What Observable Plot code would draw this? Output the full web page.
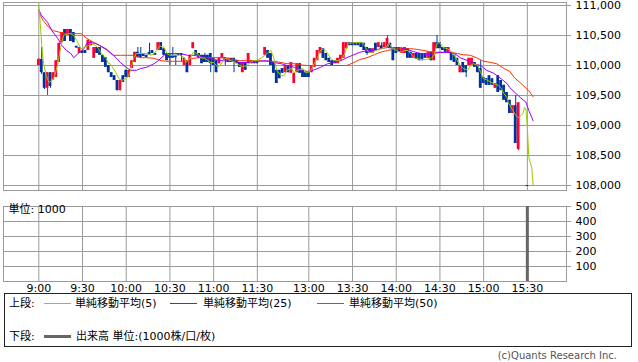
<!DOCTYPE html>
<html><head><meta charset="utf-8">
<script src="https://cdn.jsdelivr.net/npm/d3@7"></script>
<script src="https://cdn.jsdelivr.net/npm/@observablehq/plot@0.6"></script>
<style>
body{margin:0;background:#fff;}
#wrap{position:relative;width:638px;height:362px;overflow:hidden;font-family:"DejaVu Sans","Noto Sans CJK JP",sans-serif;font-size:11px;color:#000;}
#top,#bottom{position:absolute;left:0;}
#top{top:0;} #bottom{top:196px;}
#legend{position:absolute;left:4px;top:293px;width:628px;height:54px;border:1px solid #222;box-sizing:border-box;}
#legend span{position:absolute;white-space:nowrap;line-height:13px;}
#legend i{position:absolute;display:block;}
#copy{position:absolute;right:21px;top:350px;color:#555;white-space:nowrap;line-height:12px;font-size:10px;}
</style></head><body>
<div id="wrap">
<div id="top"></div>
<div id="bottom"></div>
<div id="legend"></div>
<div id="copy">(c)Quants Research Inc.</div>
</div>
<script>
// ---------- data ----------
const timeTicks = ["9:00","9:30","10:00","10:30","11:00","11:30","13:00","13:30","14:00","14:30","15:00","15:30"];
const priceTicks = [108000,108500,109000,109500,110000,110500,111000];
const volumeTicks = [100,200,300,400,500];

const morningStart = "9:00", afternoonStart = "12:30", barMinutes = 2;
const morningOpen = [110000,110100,109880,109620,109880,109760,109800,110050,110380,110600,110500,110600,110550,110320,110200,110240,110250,110250,110330,110120,110300,110300,110170,110130,110000,109880,109830,109750,109580,109830,109920,109800,109950,110050,110220,110200,110200,110170,110220,110250,110200,110250,110380,110280,110200,110200,110170,110170,110200,110200,110000,110080,110000,110280,110250,110200,110170,110170,110170,110200,110120,110080,110030,110120,110130,110120,110120,110120,110080,110050,109880,110050,110030,110080,110080,110080];
const morningClose = [110100,109880,109620,109880,109650,109880,110080,110370,110550,110400,110600,110400,110380,110290,110300,110200,110200,110420,110400,110300,110200,110170,110050,109970,109880,109800,109750,109580,109750,109720,109800,109920,110080,110220,110130,110130,110150,110130,110170,110200,110170,110380,110250,110170,110080,110120,110120,110130,110170,110170,110120,109880,110170,110380,110170,110120,110030,110050,110050,110030,110000,109880,110130,110200,110080,110050,110050,110050,110030,109970,110050,109920,110200,110030,110030,110030];
const afternoonOpen = [110170,110250,110200,110050,109920,109920,109950,109880,110000,109870,109700,109880,110030,109920,109880,109880,109880,109970,110080,110200,110280,110200,110120,110080,110080,110030,110080,110120,110280,110380,110380,110380,110380,110380,110370,110300,110280,110200,110370,110300,110330,110300,110300,110370,110280,110280,110300,110200,110200,110280,110220,110120,110200,110200,110200,110200,110120,110220,110080,110380,110380,110300,110300,110200,110220,110170,110120,109880,110050,110000,110000,110000,110050,110000,109950,109800,109780,109830,109780,109620,109830,109750,109670,109550,109420,109200,109330,108600,null,null,108000];
const afternoonClose = [110300,110120,110000,109870,109700,109780,109870,110000,109880,110050,109870,110030,109870,109800,109800,109800,110000,110120,110250,110300,110120,110080,110050,110000,110030,110120,110170,110380,110380,110330,110330,110330,110330,110300,110250,110200,110200,110280,110250,110380,110280,110380,110450,110280,110080,110200,110220,110280,110300,110120,110120,110200,110100,110080,110080,110120,110220,110080,110380,110280,110280,110250,110220,110300,110080,110050,110000,110000,109880,109880,110120,110120,109970,109880,109620,109700,109670,109670,109670,109700,109550,109580,109420,109380,109200,109330,108700,109380,null,null,108000];
const highWicks = [["9:00",110120],["9:02",110300],["10:08",110300],["10:10",110300],["10:16",110370],["10:32",110300],["10:54",110200],["13:50",110380],["13:54",110500],["14:28",110500],["14:58",110080],["15:22",109500]];
const lowWicks = [["9:02",109850],["9:04",109600],["9:06",109500],["9:08",109620],["10:30",110000],["10:34",110000],["10:38",110050],["10:58",109880],["11:08",110000],["11:14",109880],["13:40",110170],["14:48",109800],["15:24",108580]];

const volumeTimes = ["15:30"];
const volumeValues = [500];

const ma5Times = ["9:00","9:01","9:02","9:03","9:05","9:07","9:09","9:11","9:13","9:15","9:17","9:20","9:22","9:24","9:26","9:29","9:31","9:34","9:36","9:39","9:41","9:43","9:46","9:48","9:49","9:53","9:55","9:57","10:01","10:03","10:05","10:07","10:11","10:14","10:17","10:19","10:21","10:23","10:26","10:28","10:30","10:34","10:37","10:40","10:41","10:44","10:46","10:49","10:51","10:54","10:58","11:00","11:03","11:06","11:08","11:12","11:15","11:18","11:20","11:23","11:25","11:27","11:30","12:30","12:32","12:34","12:36","12:38","12:41","12:43","12:45","12:48","12:50","12:52","12:56","12:58","13:01","13:03","13:06","13:08","13:10","13:13","13:15","13:17","13:20","13:23","13:25","13:27","13:30","13:33","13:37","13:39","13:41","13:44","13:46","13:49","13:53","13:55","13:57","14:00","14:03","14:06","14:08","14:11","14:13","14:17","14:20","14:24","14:26","14:28","14:30","14:32","14:35","14:37","14:39","14:42","14:44","14:46","14:49","14:51","14:53","14:56","14:58","15:00","15:03","15:05","15:07","15:10","15:12","15:14","15:16","15:17","15:20","15:22","15:24","15:27","15:28","15:29","15:30","15:31","15:33","15:34"];
const ma5Values = [111000,110700,110350,110080,109830,109720,109750,109830,110030,110300,110500,110530,110530,110500,110420,110280,110300,110330,110370,110330,110280,110200,110120,110030,110030,109880,109780,109750,109800,109920,110120,110200,110200,110200,110170,110200,110250,110330,110300,110200,110170,110170,110170,110130,110050,110120,110220,110200,110130,110120,110050,110050,109970,110050,110120,110080,110050,110000,109980,110000,110050,110080,110080,110170,110220,110250,110120,109920,109830,109830,109920,109950,109880,109920,109950,109880,109900,110000,110130,110250,110280,110200,110120,110080,110080,110120,110220,110370,110380,110380,110380,110300,110220,110220,110250,110270,110300,110370,110300,110250,110220,110250,110250,110170,110120,110100,110100,110120,110170,110370,110380,110300,110280,110250,110200,110080,110000,109950,109920,110000,110030,110000,109880,109780,109750,109720,109700,109670,109620,109530,109470,109380,109250,109170,109130,109200,109300,109280,108970,108470,108300,108000];

const ma25Times = ["9:00","9:02","9:06","9:09","9:13","9:16","9:19","9:22","9:24","9:27","9:31","9:33","9:35","9:39","9:42","9:46","9:49","9:53","9:56","10:00","10:03","10:07","10:10","10:14","10:19","10:22","10:26","10:28","10:33","10:37","10:42","10:46","10:51","10:56","11:00","11:05","11:09","11:14","11:18","11:23","11:28","11:30","12:31","12:36","12:41","12:45","12:50","12:54","12:59","13:03","13:08","13:13","13:17","13:22","13:26","13:31","13:35","13:40","13:45","13:49","13:54","13:58","14:03","14:07","14:12","14:17","14:21","14:26","14:30","14:35","14:40","14:44","14:49","14:53","14:58","15:02","15:07","15:12","15:16","15:18","15:25","15:29","15:31","15:34"];
const ma25Values = [110930,110830,110720,110580,110450,110330,110250,110200,110130,110200,110280,110370,110380,110370,110330,110280,110220,110130,110050,109970,109920,109920,109950,109970,110030,110080,110170,110200,110200,110200,110170,110170,110150,110130,110100,110080,110080,110070,110050,110050,110050,110070,110080,110050,110030,110000,109970,109930,109900,109920,109970,110030,110050,110080,110130,110180,110220,110250,110250,110280,110300,110300,110300,110270,110230,110200,110180,110200,110220,110220,110200,110130,110080,110030,110000,109920,109870,109780,109700,109630,109470,109390,109250,109080];

const ma50Times = ["9:00","9:03","9:07","9:10","9:15","9:19","9:24","9:29","9:33","9:38","9:42","9:47","9:51","9:56","10:01","10:05","10:10","10:14","10:19","10:24","10:28","10:33","10:37","10:42","10:46","10:51","10:56","11:00","11:05","11:09","11:14","11:18","11:23","11:28","11:30","12:31","12:36","12:41","12:45","12:50","12:54","12:59","13:03","13:08","13:13","13:17","13:22","13:26","13:29","13:31","13:35","13:40","13:45","13:49","13:54","13:58","14:03","14:10","14:14","14:19","14:23","14:28","14:32","14:37","14:42","14:46","14:51","14:55","15:00","15:05","15:09","15:14","15:18","15:21","15:27","15:31","15:34"];
const ma50Values = [110880,110750,110630,110580,110550,110530,110530,110530,110450,110380,110330,110250,110170,110170,110170,110170,110130,110130,110120,110080,110070,110070,110070,110080,110120,110130,110130,110130,110130,110120,110100,110080,110080,110080,110080,110070,110070,110050,110030,110030,110010,110000,110000,110000,110000,110000,110000,110000,110030,110050,110100,110130,110180,110220,110250,110270,110280,110280,110270,110250,110230,110220,110220,110220,110200,110180,110170,110130,110070,110050,110030,109950,109900,109800,109670,109580,109480];

const maLabels = ["単純移動平均(5)","単純移動平均(25)","単純移動平均(50)"];
const maColors = ["#99cc00","#9900ff","#ff3300"];
const upColor = "#ff0033", downColor = "#003399", volColor = "#666666", gridColor = "#9a9a9a";

// ---------- helpers ----------
const LUNCH_GAP = 5.33;
function minutesOf(t){const [h,m]=t.split(":").map(Number);return h*60+m;}
function pos(t){const v=minutesOf(t);return v<720? v-540 : 150+LUNCH_GAP+(v-750);}
function addMin(t,n){const v=minutesOf(t)+n;return Math.floor(v/60)+":"+String(v%60).padStart(2,"0");}
const hiMap=new Map(highWicks), loMap=new Map(lowWicks);
const candles=[];
function pushBars(start,opens,closes){
  opens.forEach((o,i)=>{
    const c=closes[i]; if(o==null||c==null) return;
    const t=addMin(start,i*barMinutes);
    candles.push({t,x:pos(t),open:o,close:c,
      high:Math.max(o,c,hiMap.get(t)??-Infinity),
      low:Math.min(o,c,loMap.get(t)??Infinity),
      color:c>o?upColor:downColor});
  });
}
pushBars(morningStart,morningOpen,morningClose);
pushBars(afternoonStart,afternoonOpen,afternoonClose);
const series=(times,vals)=>times.map((t,i)=>({x:pos(t),y:vals[i]}));
const ma5=series(ma5Times,ma5Values), ma25=series(ma25Times,ma25Values), ma50=series(ma50Times,ma50Values);
const vols=volumeTimes.map((t,i)=>({x:pos(t),v:volumeValues[i]}));
const tickPos=timeTicks.map(pos);
const xDomain=[-24.23,362.2];
const fmt=d3.format(",");
const half=0.95;

const common={width:638,marginLeft:3,marginRight:72,
  x:{domain:xDomain,axis:null},
  style:{fontFamily:"DejaVu Sans, Noto Sans CJK JP, sans-serif",fontSize:"11px",color:"#000",background:"transparent",overflow:"visible"}};

const topChart=Plot.plot({...common,height:196,marginTop:2,marginBottom:6,
  y:{domain:[107917,111050],axis:null},
  marks:[
    Plot.ruleY(priceTicks,{stroke:gridColor}),
    Plot.ruleX(tickPos,{stroke:gridColor}),
    Plot.frame({stroke:gridColor}),
    Plot.ruleY(priceTicks,{x1:()=>xDomain[1],x2:()=>xDomain[1]+3.4,stroke:gridColor}),
    Plot.text(priceTicks,{x:()=>xDomain[1],y:d=>d,text:d=>fmt(d),textAnchor:"start",dx:9,fill:"#000"}),
    Plot.ruleX(candles,{x:"x",y1:"low",y2:"high",stroke:"color",strokeWidth:1}),
    Plot.rect(candles.filter(d=>d.open!==d.close),{x1:d=>d.x-half,x2:d=>d.x+half,y1:"open",y2:"close",fill:"color"}),
    Plot.ruleY(candles.filter(d=>d.open===d.close),{y:"close",x1:d=>d.x-half,x2:d=>d.x+half,stroke:"color"}),
    Plot.line(ma50,{x:"x",y:"y",stroke:maColors[2],strokeWidth:1}),
    Plot.line(ma25,{x:"x",y:"y",stroke:maColors[1],strokeWidth:1}),
    Plot.line(ma5,{x:"x",y:"y",stroke:maColors[0],strokeWidth:1})
  ]});
document.getElementById("top").append(topChart);

const bottomChart=Plot.plot({...common,height:100,marginTop:10,marginBottom:15,
  y:{domain:[0,500],axis:null},
  marks:[
    Plot.ruleY(volumeTicks,{stroke:gridColor}),
    Plot.ruleX(tickPos,{stroke:gridColor}),
    Plot.frame({stroke:gridColor}),
    Plot.ruleY(volumeTicks,{x1:()=>xDomain[1],x2:()=>xDomain[1]+3.4,stroke:gridColor}),
    Plot.text(volumeTicks,{x:()=>xDomain[1],y:d=>d,text:d=>String(d),textAnchor:"start",dx:9,fill:"#000"}),
    Plot.ruleX(vols,{x:"x",y1:0,y2:"v",stroke:volColor,strokeWidth:3}),
    Plot.text(["単位: 1000"],{frameAnchor:"top-left",dx:5,dy:-1,lineAnchor:"top",fill:"#000"}),
    Plot.text(timeTicks,{x:d=>pos(d),y:()=>0,text:d=>d,dy:7,lineAnchor:"middle",fill:"#000"})
  ]});
document.getElementById("bottom").append(bottomChart);

// ---------- legend ----------
const lg=document.getElementById("legend");
const lineX=[39,165,312], textX=[70,198,344];
lg.insertAdjacentHTML("beforeend",`<span style="left:4px;top:3px">上段:</span>`);
maLabels.forEach((l,i)=>{
  lg.insertAdjacentHTML("beforeend",`<i style="left:${lineX[i]}px;top:9px;width:27px;height:1px;background:${maColors[i]}"></i><span style="left:${textX[i]}px;top:3px">${l}</span>`);
});
lg.insertAdjacentHTML("beforeend",`<span style="left:4px;top:36px">下段:</span><i style="left:39px;top:41px;width:27px;height:3px;background:${volColor}"></i><span style="left:71px;top:36px">出来高 単位:(1000株/口/枚)</span>`);
</script>
</body></html>
